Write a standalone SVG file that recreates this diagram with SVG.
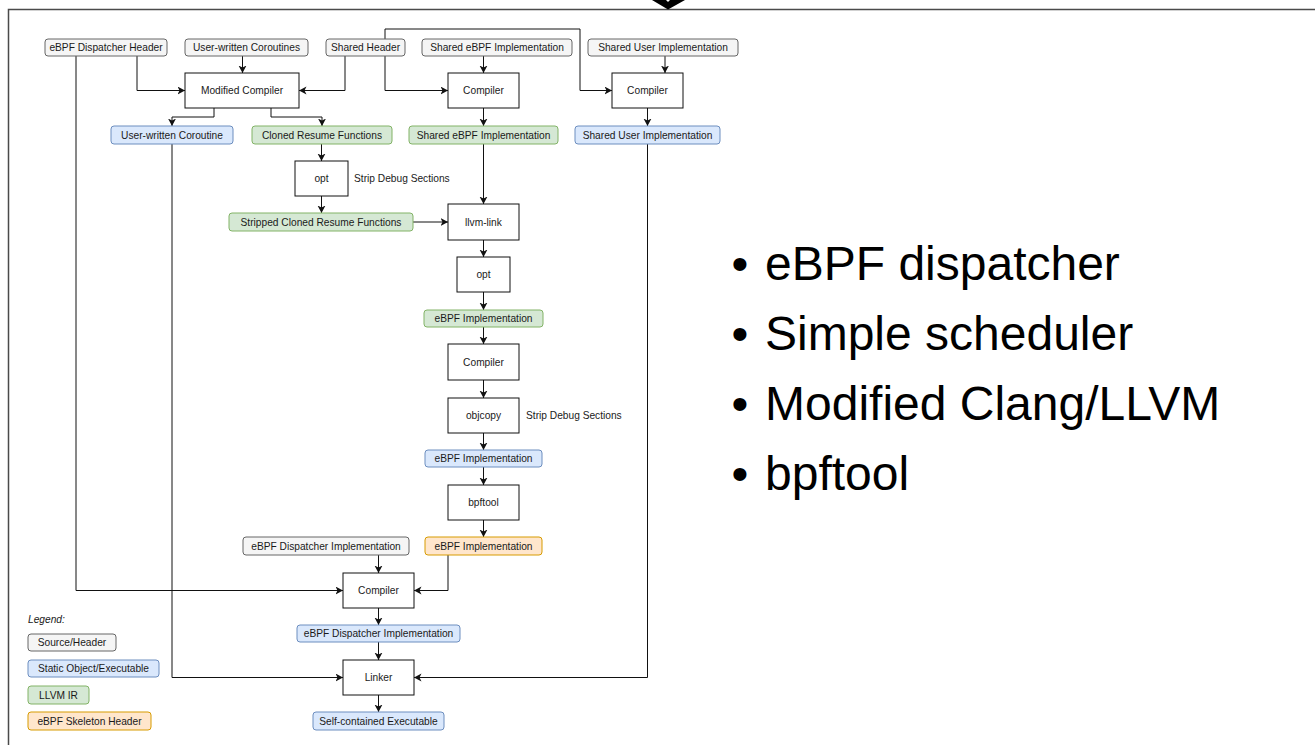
<svg xmlns="http://www.w3.org/2000/svg" width="1315" height="745" viewBox="0 0 1315 745">
  <defs>
    <marker id="arrow" markerUnits="userSpaceOnUse" markerWidth="9" markerHeight="9" refX="7.5" refY="4" orient="auto">
      <path d="M0,0 L7.5,4 L0,8 L2,4 z" fill="#111"/>
    </marker>
    <style>
      text { font-family: "Liberation Sans", Arial, Helvetica, sans-serif; }
      .lbl { font-size: 10.2px; fill: #1a1a1a; text-anchor: middle; dominant-baseline: central; }
      .note { font-size: 10.2px; fill: #1a1a1a; dominant-baseline: central; }
      .src { fill: #f5f5f5; stroke: #666666; stroke-width: 1; }
      .obj { fill: #dae8fc; stroke: #6c8ebf; stroke-width: 1; }
      .ir { fill: #d5e8d4; stroke: #82b366; stroke-width: 1; }
      .skel { fill: #ffe6cc; stroke: #d79b00; stroke-width: 1; }
      .proc { fill: #ffffff; stroke: #111111; stroke-width: 1; }
      .edge { fill: none; stroke: #111111; stroke-width: 1; marker-end: url(#arrow); }
      .bullet { font-size: 48px; fill: #000000; }
    </style>
  </defs>

  <rect width="1315" height="745" fill="#ffffff"/>

  <!-- slide frame and the tip of the arrow above it -->
  <path d="M8.5,745 V9.5 H1315" fill="none" stroke="#4a4a4a" stroke-width="1.5"/>
  <polygon points="652,0 668,9.5 685,0 670,0 668,2 666,0" fill="#000000"/>

  <!-- connectors -->
  <g id="connectors">
    <path class="edge" d="M137,56 V90.5 H185"/>
    <path class="edge" d="M76,56 V590.5 H343"/>
    <path class="edge" d="M242.5,56 V73"/>
    <path class="edge" d="M345,56 V90.5 H299"/>
    <path class="edge" d="M385,56 V90.5 H448"/>
    <path class="edge" d="M385,39 V29 H580 V90.5 H612"/>
    <path class="edge" d="M483.5,56 V73"/>
    <path class="edge" d="M665,56 V73"/>
    <path class="edge" d="M214,108 V117 H172 V126"/>
    <path class="edge" d="M271,108 V117 H322 V126"/>
    <path class="edge" d="M483.5,108 V126"/>
    <path class="edge" d="M647.5,108 V126"/>
    <path class="edge" d="M321.5,144 V161"/>
    <path class="edge" d="M321.5,196 V213"/>
    <path class="edge" d="M413,222 H448"/>
    <path class="edge" d="M483.5,144 V204"/>
    <path class="edge" d="M483.5,240 V257"/>
    <path class="edge" d="M483.5,292 V310"/>
    <path class="edge" d="M483.5,327 V344"/>
    <path class="edge" d="M483.5,380 V398"/>
    <path class="edge" d="M483.5,433 V450"/>
    <path class="edge" d="M483.5,467 V485"/>
    <path class="edge" d="M483.5,520 V537"/>
    <path class="edge" d="M448,555 V590.5 H414"/>
    <path class="edge" d="M378.5,555 V573"/>
    <path class="edge" d="M378.5,608 V625"/>
    <path class="edge" d="M378.5,642 V660"/>
    <path class="edge" d="M172,144 V677.5 H343"/>
    <path class="edge" d="M647.5,144 V677.5 H414"/>
    <path class="edge" d="M378.5,695 V712"/>
  </g>

  <!-- sources and headers -->
  <g id="n-dispatcher-header"><rect class="src" x="45" y="39" width="122" height="17" rx="3"/><text class="lbl" x="106" y="47.5">eBPF Dispatcher Header</text></g>
  <g id="n-user-coroutines"><rect class="src" x="185" y="39" width="123" height="17" rx="3"/><text class="lbl" x="246.5" y="47.5">User-written Coroutines</text></g>
  <g id="n-shared-header"><rect class="src" x="326" y="39" width="79" height="17" rx="3"/><text class="lbl" x="365.5" y="47.5">Shared Header</text></g>
  <g id="n-shared-ebpf-src"><rect class="src" x="422" y="39" width="150" height="17" rx="3"/><text class="lbl" x="497" y="47.5">Shared eBPF Implementation</text></g>
  <g id="n-shared-user-src"><rect class="src" x="588" y="39" width="150" height="17" rx="3"/><text class="lbl" x="663" y="47.5">Shared User Implementation</text></g>

  <!-- first compile stage -->
  <g id="n-modified-compiler"><rect class="proc" x="185" y="73" width="114" height="35"/><text class="lbl" x="242" y="90.5">Modified Compiler</text></g>
  <g id="n-compiler-ebpf"><rect class="proc" x="448" y="73" width="71" height="35"/><text class="lbl" x="483.5" y="90.5">Compiler</text></g>
  <g id="n-compiler-user"><rect class="proc" x="612" y="73" width="71" height="35"/><text class="lbl" x="647.5" y="90.5">Compiler</text></g>

  <g id="n-user-coroutine"><rect class="obj" x="111" y="126" width="122" height="18" rx="3"/><text class="lbl" x="172" y="135">User-written Coroutine</text></g>
  <g id="n-cloned-resume"><rect class="ir" x="252" y="126" width="140" height="18" rx="3"/><text class="lbl" x="322" y="135">Cloned Resume Functions</text></g>
  <g id="n-shared-ebpf-ir"><rect class="ir" x="409" y="126" width="149" height="18" rx="3"/><text class="lbl" x="483.5" y="135">Shared eBPF Implementation</text></g>
  <g id="n-shared-user-obj"><rect class="obj" x="575" y="126" width="145" height="18" rx="3"/><text class="lbl" x="647.5" y="135">Shared User Implementation</text></g>

  <!-- eBPF pipeline -->
  <g id="n-opt-strip"><rect class="proc" x="295" y="161" width="53" height="35"/><text class="lbl" x="321.5" y="178.5">opt</text><text class="note" x="354" y="178.5">Strip Debug Sections</text></g>
  <g id="n-stripped"><rect class="ir" x="229" y="213" width="184" height="18" rx="3"/><text class="lbl" x="321" y="222">Stripped Cloned Resume Functions</text></g>
  <g id="n-llvm-link"><rect class="proc" x="448" y="204" width="71" height="36"/><text class="lbl" x="483.5" y="222">llvm-link</text></g>
  <g id="n-opt"><rect class="proc" x="457" y="257" width="53" height="35"/><text class="lbl" x="483.5" y="274.5">opt</text></g>
  <g id="n-ebpf-ir"><rect class="ir" x="424" y="310" width="119" height="17" rx="3"/><text class="lbl" x="483.5" y="318.5">eBPF Implementation</text></g>
  <g id="n-compiler-bpf"><rect class="proc" x="448" y="344" width="71" height="36"/><text class="lbl" x="483.5" y="362">Compiler</text></g>
  <g id="n-objcopy"><rect class="proc" x="448" y="398" width="71" height="35"/><text class="lbl" x="483.5" y="415.5">objcopy</text><text class="note" x="526" y="415.5">Strip Debug Sections</text></g>
  <g id="n-ebpf-obj"><rect class="obj" x="425" y="450" width="117" height="17" rx="3"/><text class="lbl" x="483.5" y="458.5">eBPF Implementation</text></g>
  <g id="n-bpftool"><rect class="proc" x="448" y="485" width="71" height="35"/><text class="lbl" x="483.5" y="502.5">bpftool</text></g>
  <g id="n-ebpf-skel"><rect class="skel" x="425" y="537" width="117" height="18" rx="3"/><text class="lbl" x="483.5" y="546">eBPF Implementation</text></g>

  <!-- dispatcher and final link -->
  <g id="n-dispatcher-src"><rect class="src" x="243" y="537" width="166" height="18" rx="3"/><text class="lbl" x="326" y="546">eBPF Dispatcher Implementation</text></g>
  <g id="n-compiler-dispatcher"><rect class="proc" x="343" y="573" width="71" height="35"/><text class="lbl" x="378.5" y="590.5">Compiler</text></g>
  <g id="n-dispatcher-obj"><rect class="obj" x="297" y="625" width="163" height="17" rx="3"/><text class="lbl" x="378.5" y="633.5">eBPF Dispatcher Implementation</text></g>
  <g id="n-linker"><rect class="proc" x="343" y="660" width="71" height="35"/><text class="lbl" x="378.5" y="677.5">Linker</text></g>
  <g id="n-executable"><rect class="obj" x="313" y="712" width="131" height="18" rx="3"/><text class="lbl" x="378.5" y="721">Self-contained Executable</text></g>

  <!-- legend -->
  <g id="legend">
    <text class="note" x="28" y="619" font-style="italic">Legend:</text>
    <rect class="src" x="28" y="634" width="88" height="17" rx="3"/><text class="lbl" x="72" y="642.5">Source/Header</text>
    <rect class="obj" x="28" y="660" width="131" height="17" rx="3"/><text class="lbl" x="93.5" y="668.5">Static Object/Executable</text>
    <rect class="ir" x="28" y="686" width="61" height="18" rx="3"/><text class="lbl" x="58.5" y="695">LLVM IR</text>
    <rect class="skel" x="28" y="712" width="123" height="18" rx="3"/><text class="lbl" x="89.5" y="721">eBPF Skeleton Header</text>
  </g>

  <!-- bullet list -->
  <g id="bullets">
    <text class="bullet" x="740" y="280" text-anchor="middle">•</text><text class="bullet" x="765" y="280">eBPF dispatcher</text>
    <text class="bullet" x="740" y="350" text-anchor="middle">•</text><text class="bullet" x="765" y="350">Simple scheduler</text>
    <text class="bullet" x="740" y="420" text-anchor="middle">•</text><text class="bullet" x="765" y="420">Modified Clang/LLVM</text>
    <text class="bullet" x="740" y="490" text-anchor="middle">•</text><text class="bullet" x="765" y="490">bpftool</text>
  </g>
</svg>
